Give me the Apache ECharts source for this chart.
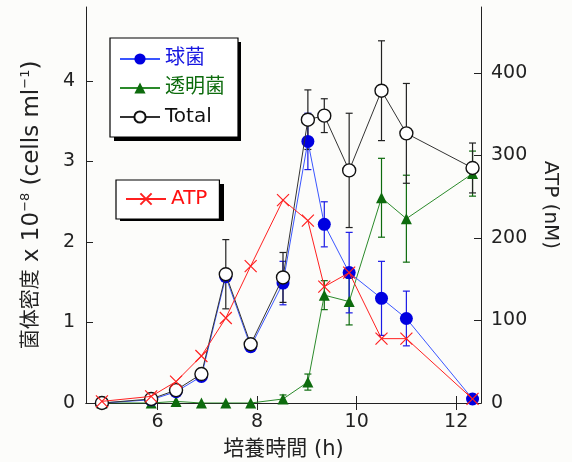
<!DOCTYPE html>
<html>
<head>
<meta charset="utf-8">
<script src="https://cdn.jsdelivr.net/npm/echarts@6/dist/echarts.min.js"></script>
<style>
html,body{margin:0;padding:0;background:#fcfcfa;}
#chart{width:572px;height:462px;}
</style>
</head>
<body>
<div id="chart"></div>
<script>
// ---- data ----
const times = [4.88, 5.87, 6.37, 6.88, 7.37, 7.87, 8.52, 9.02, 9.35, 9.85, 10.5, 11.0, 12.33];
const kyukin = [0.0, 0.04, 0.14, 0.33, 1.57, 0.70, 1.49, 3.25, 2.22, 1.62, 1.30, 1.05, 0.05];
const kyukinErr = [0, 0, 0, 0, 0, 0, 0.27, 0.35, 0.28, 0.50, 0.46, 0.34, 0];
const tomei = [0.0, 0.0, 0.02, 0.0, 0.0, 0.0, 0.05, 0.26, 1.34, 1.26, 2.55, 2.29, 2.85];
const tomeiErr = [0, 0, 0, 0, 0, 0, 0.05, 0.10, 0.18, 0.29, 0.49, 0.54, 0.28];
const total = [0.0, 0.05, 0.16, 0.36, 1.60, 0.73, 1.56, 3.52, 3.57, 2.89, 3.88, 3.35, 2.92];
const totalErr = [0, 0, 0, 0, 0.43, 0, 0.31, 0.37, 0.21, 0.71, 0.62, 0.62, 0.31];
const atp = [2, 8, 26, 57, 103, 166, 246, 221, 141, 158, 78, 78, 5];
const xTicks = [6, 8, 10, 12];
const yLeftTicks = [0, 1, 2, 3, 4];
const yRightTicks = [0, 100, 200, 300, 400];

const FONT = "'DejaVu Sans', 'Noto Sans CJK JP', sans-serif";
const AX = '#222';

function pairs(vals) { return times.map((t, i) => [t, vals[i]]); }
function errData(vals, errs) {
  const out = [];
  times.forEach((t, i) => { if (errs[i] > 0) out.push([t, vals[i] - errs[i], vals[i] + errs[i]]); });
  return out;
}
function errSeries(vals, errs, color, z) {
  return {
    type: 'custom', xAxisIndex: 0, yAxisIndex: 0, z: z, silent: true,
    data: errData(vals, errs),
    encode: { x: 0, y: [1, 2] },
    renderItem: function (params, api) {
      const x = api.value(0);
      const lo = api.coord([x, api.value(1)]);
      const hi = api.coord([x, api.value(2)]);
      const w = 3.5;
      const st = { stroke: color, lineWidth: 1.2 };
      return {
        type: 'group', children: [
          { type: 'line', shape: { x1: lo[0], y1: lo[1], x2: hi[0], y2: hi[1] }, style: st },
          { type: 'line', shape: { x1: lo[0] - w, y1: lo[1], x2: lo[0] + w, y2: lo[1] }, style: st },
          { type: 'line', shape: { x1: hi[0] - w, y1: hi[1], x2: hi[0] + w, y2: hi[1] }, style: st }
        ]
      };
    }
  };
}

const chart = echarts.init(document.getElementById('chart'), null, { renderer: 'canvas' });
const tickLabel = { fontSize: 19, color: '#222', fontFamily: FONT };

chart.setOption({
  animation: false,
  backgroundColor: '#fcfcfa',
  textStyle: { fontFamily: FONT },
  grid: { left: 86, right: 91, top: 7, bottom: 59, containLabel: false, outerBoundsMode: 'none' },
  graphic: [
    { type: 'rect', z: 1, shape: { x: 114, y: 42, width: 127, height: 99 }, style: { fill: '#000' } },
    { type: 'rect', z: 1, shape: { x: 120, y: 184, width: 104, height: 37 }, style: { fill: '#000' } }
  ],
  xAxis: [{
    type: 'value', min: 4.56, max: 12.5, position: 'bottom',
    name: '培養時間 (h)', nameLocation: 'middle', nameGap: 36,
    nameTextStyle: { fontSize: 21, color: '#222', fontFamily: FONT },
    axisLine: { show: true, lineStyle: { color: AX, width: 1 } },
    axisTick: { show: true, inside: true, length: 7, lineStyle: { color: AX }, customValues: xTicks },
    axisLabel: { show: true, margin: 10, customValues: xTicks, ...tickLabel },
    splitLine: { show: false }
  }, {
    type: 'value', min: 4.56, max: 12.5, position: 'top',
    axisLine: { show: true, lineStyle: { color: AX, width: 1 } },
    axisTick: { show: true, inside: true, length: 7, lineStyle: { color: AX }, customValues: xTicks },
    axisLabel: { show: false },
    splitLine: { show: false }
  }],
  yAxis: [{
    type: 'value', min: 0, max: 4.92, position: 'left',
    name: '{c|菌体密度}{a| x 10}{s|−8}{a| (cells ml}{s|−1}{a|)}',
    nameLocation: 'middle', nameRotate: 90, nameGap: 41,
    nameTextStyle: {
      color: '#222', fontFamily: FONT,
      rich: {
        c: { fontSize: 20, color: '#222', fontFamily: FONT, lineHeight: 26 },
        a: { fontSize: 23, color: '#222', fontFamily: FONT, lineHeight: 26 },
        s: { fontSize: 13, color: '#222', fontFamily: FONT, verticalAlign: 'top', lineHeight: 26 }
      }
    },
    axisLine: { show: true, lineStyle: { color: AX, width: 1 } },
    axisTick: { show: true, inside: true, length: 7, lineStyle: { color: AX }, customValues: yLeftTicks },
    axisLabel: { show: true, margin: 11, customValues: yLeftTicks, ...tickLabel },
    splitLine: { show: false }
  }, {
    type: 'value', min: 0, max: 480, position: 'right',
    name: 'ATP (nM)', nameLocation: 'middle', nameRotate: -90, nameGap: 59,
    nameTextStyle: { fontSize: 20, color: '#222', fontFamily: FONT },
    axisLine: { show: true, lineStyle: { color: AX, width: 1 } },
    axisTick: { show: true, inside: true, length: 7, lineStyle: { color: AX }, customValues: yRightTicks },
    axisLabel: { show: true, margin: 10, customValues: yRightTicks, ...tickLabel },
    splitLine: { show: false }
  }],
  legend: [{
    orient: 'vertical', left: 110, top: 38, z: 5,
    padding: [11, 13, 10, 9], itemGap: 9, itemWidth: 40, itemHeight: 14,
    backgroundColor: '#ffffff', borderColor: '#000', borderWidth: 1.2,
    textStyle: { fontSize: 20, fontFamily: FONT },
    data: [
      { name: '球菌', textStyle: { color: '#1515e0' } },
      { name: '透明菌', textStyle: { color: '#0d6b0d' } },
      { name: 'Total', textStyle: { color: '#111' } }
    ]
  }, {
    orient: 'vertical', left: 116, top: 180, z: 5,
    padding: [9, 12, 10, 9], itemWidth: 40, itemHeight: 14,
    backgroundColor: '#ffffff', borderColor: '#000', borderWidth: 1.2,
    textStyle: { fontSize: 20, fontFamily: FONT },
    data: [{ name: 'ATP', textStyle: { color: '#ff1010' } }]
  }],
  series: [
    errSeries(tomei, tomeiErr, '#0d6b0d', 2),
    errSeries(kyukin, kyukinErr, '#1a1ae6', 3),
    errSeries(total, totalErr, '#222', 4),
    {
      name: '透明菌', type: 'line', xAxisIndex: 0, yAxisIndex: 0, z: 5,
      data: pairs(tomei), symbol: 'triangle', symbolSize: 11, showAllSymbol: true,
      lineStyle: { color: '#2a8a2a', width: 1 },
      itemStyle: { color: '#0d6b0d' }
    },
    {
      name: '球菌', type: 'line', xAxisIndex: 0, yAxisIndex: 0, z: 6,
      data: pairs(kyukin), symbol: 'circle', symbolSize: 13, showAllSymbol: true,
      lineStyle: { color: '#3a55ff', width: 1 },
      itemStyle: { color: '#0000e0' }
    },
    {
      name: 'Total', type: 'line', xAxisIndex: 0, yAxisIndex: 0, z: 7,
      data: pairs(total), symbol: 'circle', symbolSize: 13, showAllSymbol: true,
      lineStyle: { color: '#333', width: 1 },
      itemStyle: { color: '#ffffff', borderColor: '#111', borderWidth: 1.4 }
    },
    {
      name: 'ATP', type: 'line', xAxisIndex: 0, yAxisIndex: 1, z: 8,
      data: pairs(atp), symbol: 'path://M0,0L10,10M10,0L0,10', symbolSize: 12, showAllSymbol: true,
      lineStyle: { color: '#ff2020', width: 1 },
      itemStyle: { color: 'rgba(0,0,0,0)', borderColor: '#ff2020', borderWidth: 1.2 }
    }
  ]
});
</script>
</body>
</html>
